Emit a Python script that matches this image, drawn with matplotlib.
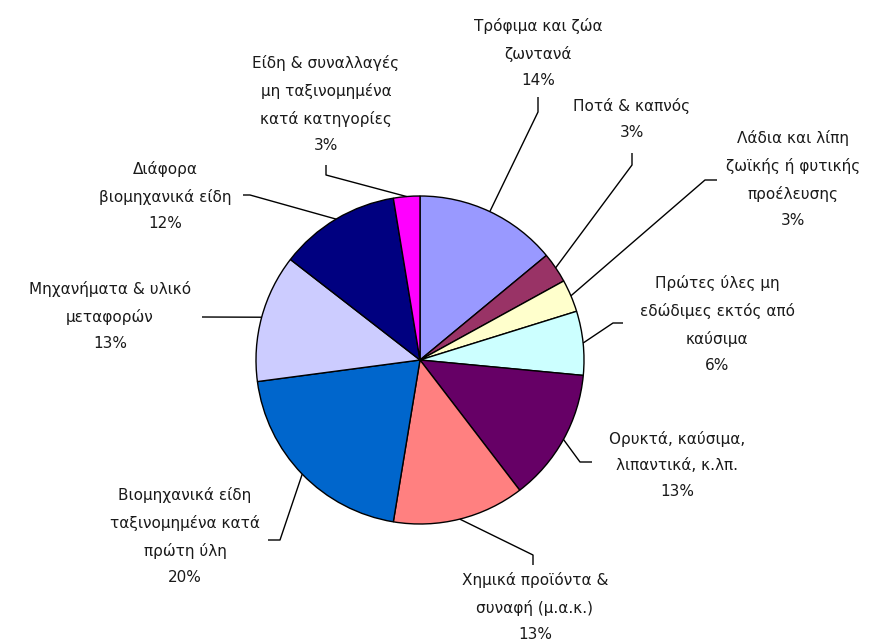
import numpy as np
import matplotlib
matplotlib.use("Agg")
import matplotlib.pyplot as plt

categories = [
    "Τρόφιμα και ζώα\nζωντανά",
    "Ποτά & καπνός",
    "Λάδια και λίπη\nζωϊκής ή φυτικής\nπροέλευσης",
    "Πρώτες ύλες μη\nεδώδιμες εκτός από\nκαύσιμα",
    "Ορυκτά, καύσιμα,\nλιπαντικά, κ.λπ.",
    "Χημικά προϊόντα &\nσυναφή (μ.α.κ.)",
    "Βιομηχανικά είδη\nταξινομημένα κατά\nπρώτη ύλη",
    "Μηχανήματα & υλικό\nμεταφορών",
    "Διάφορα\nβιομηχανικά είδη",
    "Είδη & συναλλαγές\nμη ταξινομημένα\nκατά κατηγορίες",
]
values = [14.0, 3.0, 3.2, 6.3, 13.1, 13.0, 20.3, 12.6, 11.9, 2.6]
colors = ["#9999FF", "#993366", "#FFFFCC", "#CCFFFF", "#660066",
          "#FF8080", "#0066CC", "#CCCCFF", "#000080", "#FF00FF"]

W, H = 874, 643
fig = plt.figure(figsize=(W / 100, H / 100), dpi=100)
ax = fig.add_axes([0, 0, 1, 1])

cx, cy, R = 420, H - 360, 164
wedges, _ = ax.pie(values, colors=colors, startangle=90, counterclock=False,
                   center=(cx, cy), radius=R, frame=True,
                   wedgeprops=dict(edgecolor="black", linewidth=1.0))
ax.set_xlim(0, W)
ax.set_ylim(0, H)
ax.set_aspect("equal")
ax.axis("off")

# label layout: (text block center x, center y in px from top, leader elbow points in px from top)
layout = [
    (538, 53, [(538, 112), (538, 97)]),
    (632, 119, [(632, 165), (632, 153)]),
    (793, 179, [(705, 180), (717, 180)]),
    (717, 324, [(613, 323), (623, 323)]),
    (677, 465, [(580, 462), (592, 462)]),
    (535, 607, [(533, 555), (533, 565)]),
    (185, 536, [(280, 540), (268, 540)]),
    (110, 316, [(202, 317)]),
    (165, 196, [(250, 195), (243, 195)]),
    (326, 104, [(326, 175), (326, 165)]),
]

total = sum(values)
for w, cat, v, (tx, ty, pts) in zip(wedges, categories, values, layout):
    mid = np.deg2rad((w.theta1 + w.theta2) / 2)
    ax_ = cx + R * np.cos(mid)
    ay_ = cy + R * np.sin(mid)
    xs = [ax_] + [p[0] for p in pts]
    ys = [ay_] + [H - p[1] for p in pts]
    ax.plot(xs, ys, color="black", lw=1.0, solid_capstyle="butt")
    label = f"{cat}\n{v / total * 100:.0f}%"
    ax.text(tx, H - ty, label, ha="center", va="center", fontsize=11,
            family="DejaVu Sans", color="#1a1a1a", linespacing=1.92)

fig.savefig("out.png", dpi=100)
